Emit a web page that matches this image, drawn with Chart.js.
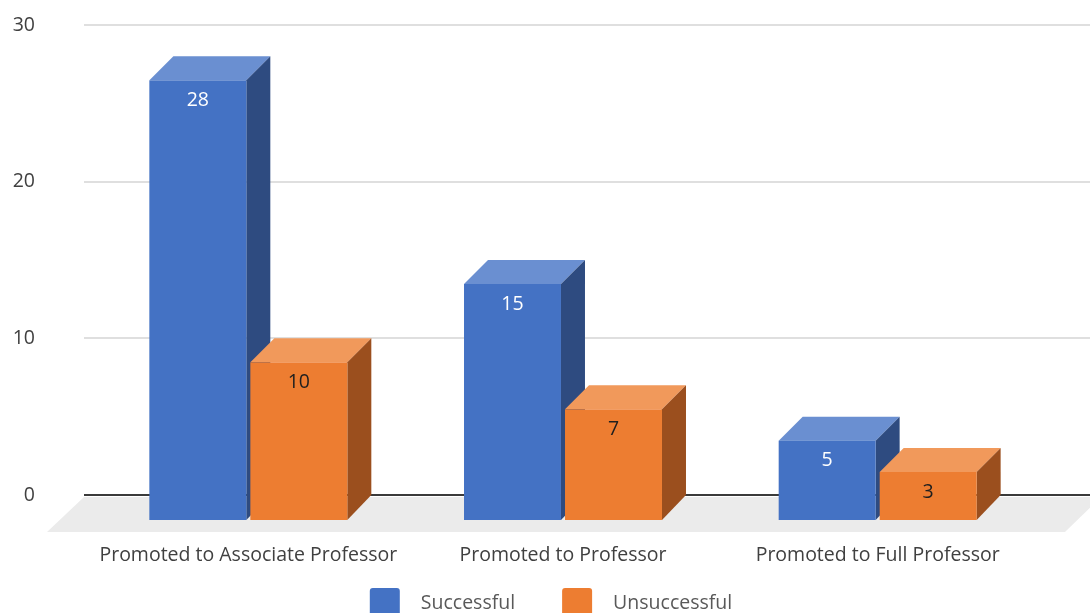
<!DOCTYPE html>
<html>
<head>
<meta charset="utf-8">
<script src="https://cdn.jsdelivr.net/npm/chart.js@4.4.1/dist/chart.umd.min.js"></script>
<style>
  html, body { margin: 0; padding: 0; background: #fff; }
  #wrap { width: 1090px; height: 613px; }
</style>
</head>
<body>
<div id="wrap"><canvas id="promotions"></canvas></div>
<script>
const categories = ["Promoted to Associate Professor", "Promoted to Professor", "Promoted to Full Professor"];
const successful = [28, 15, 5];
const unsuccessful = [10, 7, 3];
const yTicks = [0, 10, 20, 30];

const FONT = "'Open Sans', 'Noto Sans', sans-serif";
const FONT_SIZE = 19.5;
const DEPTH = 24; // 3d offset of the boxes, px

const faces = [
    { front: "#4472C4", top: "#6A8FD1", side: "#2E4B80", label: "#ffffff" },
    { front: "#ED7D31", top: "#F1995B", side: "#9B4F1E", label: "#1f1f1f" }
];

// floor, grid and the 3d boxes, all placed from the chart's own scales
const box3d = {
    id: "box3d",
    beforeDatasetsDraw(chart) {
        const { ctx, chartArea, scales } = chart;
        const y0 = scales.y.getPixelForValue(0);
        const left = chartArea.left - 31;
        const right = chart.width;
        ctx.save();
        ctx.fillStyle = "#EBEBEB";
        ctx.beginPath();
        ctx.moveTo(left, y0 + 2);
        ctx.lineTo(right + 11, y0 + 2);
        ctx.lineTo(right - 25, y0 + 37);
        ctx.lineTo(left - 37, y0 + 37);
        ctx.closePath();
        ctx.fill();
        yTicks.forEach(v => {
            const y = Math.round(scales.y.getPixelForValue(v));
            ctx.strokeStyle = v === 0 ? "#3a3a3a" : "#D4D4D4";
            ctx.lineWidth = v === 0 ? 2 : 1.5;
            ctx.beginPath();
            ctx.moveTo(left, y);
            ctx.lineTo(right, y);
            ctx.stroke();
        });
        ctx.restore();
    },
    beforeDatasetDraw() {
        return false; // default flat bars are replaced below
    },
    afterDatasetsDraw(chart) {
        const { ctx } = chart;
        ctx.save();
        categories.forEach((cat, idx) => {
            chart.data.datasets.forEach((ds, di) => {
                const bar = chart.getDatasetMeta(di).data[idx];
                const { x, y, base, width } = bar.getProps(["x", "y", "base", "width"], true);
                const f = faces[di];
                const xl = x - width / 2, xr = x + width / 2, d = DEPTH;
                // top
                ctx.fillStyle = f.top;
                ctx.beginPath();
                ctx.moveTo(xl - d, y + d);
                ctx.lineTo(xl, y);
                ctx.lineTo(xr, y);
                ctx.lineTo(xr - d, y + d);
                ctx.closePath();
                ctx.fill();
                // side
                ctx.fillStyle = f.side;
                ctx.beginPath();
                ctx.moveTo(xr - d, y + d);
                ctx.lineTo(xr, y);
                ctx.lineTo(xr, base);
                ctx.lineTo(xr - d, base + d + 1);
                ctx.closePath();
                ctx.fill();
                // front
                ctx.fillStyle = f.front;
                ctx.fillRect(xl - d, y + d, width, base - y + 1);
                // value
                ctx.fillStyle = f.label;
                ctx.font = FONT_SIZE + "px " + FONT;
                ctx.textAlign = "center";
                ctx.textBaseline = "middle";
                ctx.fillText(String(ds.data[idx]), x - d, y + d + 20);
            });
        });
        ctx.restore();
    },
    afterDraw(chart) {
        // legend under the axis labels
        const { ctx } = chart;
        ctx.save();
        ctx.font = FONT_SIZE + "px " + FONT;
        ctx.textBaseline = "middle";
        ctx.textAlign = "left";
        const items = chart.data.datasets.map((ds, i) => ({ text: ds.label, color: faces[i].front, w: ctx.measureText(ds.label).width }));
        const total = items.reduce((s, it) => s + 30 + 21 + it.w, 0) + 47 * (items.length - 1);
        let x = chart.width / 2 + 6 - total / 2;
        const yc = 603;
        items.forEach(it => {
            ctx.fillStyle = it.color;
            ctx.beginPath();
            ctx.roundRect(x, yc - 15, 30, 30, 3);
            ctx.fill();
            ctx.fillStyle = "#595959";
            ctx.fillText(it.text, x + 51, yc);
            x += 30 + 21 + it.w + 47;
        });
        ctx.restore();
    }
};

new Chart(document.getElementById("promotions"), {
    type: "bar",
    data: {
        labels: categories,
        datasets: [
            { label: "Successful", data: successful, backgroundColor: faces[0].front },
            { label: "Unsuccessful", data: unsuccessful, backgroundColor: faces[1].front }
        ]
    },
    options: {
        responsive: true,
        maintainAspectRatio: false,
        animation: false,
        categoryPercentage: 0.642,
        barPercentage: 0.96,
        layout: { padding: { top: 25, right: 31, bottom: 48, left: 0 } },
        plugins: {
            legend: { display: false },
            tooltip: { enabled: false }
        },
        scales: {
            x: {
                grid: { display: false, drawTicks: false },
                border: { display: false },
                afterFit(axis) {
                    axis.height = 70;
                },
                ticks: {
                    autoSkip: false,
                    maxRotation: 0,
                    labelOffset: -DEPTH,
                    padding: 49,
                    color: "#404040",
                    font: { family: FONT, size: FONT_SIZE }
                }
            },
            y: {
                min: 0,
                max: 30,
                grid: { display: false, drawTicks: false },
                border: { display: false },
                afterFit(axis) {
                    axis.width = 115;
                    axis.paddingTop = 0;
                    axis.paddingBottom = 0;
                },
                ticks: {
                    stepSize: 10,
                    padding: 80,
                    color: "#404040",
                    font: { family: FONT, size: FONT_SIZE }
                }
            }
        }
    },
    plugins: [box3d]
});
</script>
</body>
</html>
